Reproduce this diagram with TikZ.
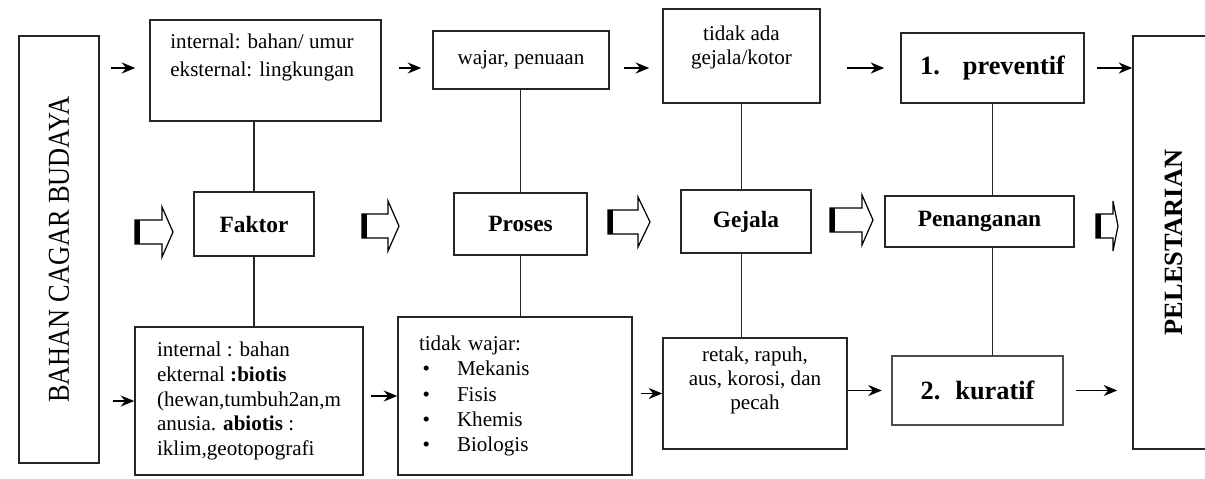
\documentclass[tikz,border=0pt]{standalone}
\usepackage{fontspec}
\setmainfont{Liberation Serif}
\usepackage{graphicx}
\usetikzlibrary{arrows.meta}

\newcommand{\itembul}{\makebox[0.76cm][l]{\hspace{2pt}\textbullet}}

\tikzset{
  box/.style={draw=black!85, line width=0.9pt, inner sep=0pt, font=\fontsize{12}{14.2}\selectfont},
  head/.style={box, font=\fontsize{13.3}{16}\selectfont\bfseries},
  arr/.style={line width=1pt, -{Stealth[length=0.27cm,width=0.22cm]}},
  link/.style={line width=0.9pt, draw=black!85},
  pics/hollow/.style args={#1/#2}{code={
    \draw[line width=0.7pt, fill=white] (0,-12) -- (#1-#2,-12) -- (#1-#2,-25) -- (#1,0) -- (#1-#2,25) -- (#1-#2,12) -- (0,12) -- cycle;
    \fill (0,-12) rectangle (5,12);
  }}
}

\begin{document}
\begin{tikzpicture}[x=0.02cm, y=-0.02cm]
\useasboundingbox (0,0) rectangle (1205,478);

% start and end
\node[box, minimum width=1.6cm, minimum height=8.54cm] (bahan) at (59,249.5)
  {\rotatebox{90}{\fontsize{15}{18}\selectfont\scalebox{1}[1.15]{BAHAN CAGAR BUDAYA}}};
\node[box, minimum width=1.64cm, minimum height=8.26cm] (pel) at (1174,242.5)
  {\rotatebox{90}{\fontsize{15}{18}\selectfont\bfseries PELESTARIAN}};

% top row
\node[box, minimum width=4.62cm, minimum height=2.02cm] (intern) at (265.5,70.5) {};
\node[anchor=north west, inner sep=0pt, align=left, font=\fontsize{12}{15.4}\selectfont] (intern-t) at (170,34)
  {internal: bahan/ umur\\eksternal: lingkungan};
\node[box, minimum width=3.52cm, minimum height=1.16cm] (wajar) at (521,60) {wajar, penuaan};
\node[box, minimum width=3.14cm, minimum height=1.88cm] (tidak) at (741.5,56) {};
\node[anchor=north, inner sep=0pt, align=center, font=\fontsize{12}{13.2}\selectfont] (tidak-t) at (741.5,26)
  {tidak ada\\gejala/kotor};
\node[head, font=\fontsize{15}{18}\selectfont\bfseries, minimum width=3.66cm, minimum height=1.4cm] (prev) at (992.5,68)
  {1.\hspace{0.46cm}preventif};

% middle row
\node[head, minimum width=2.4cm, minimum height=1.28cm] (faktor) at (254,224) {Faktor};
\node[head, minimum width=2.66cm, minimum height=1.24cm] (proses) at (520.5,224) {Proses};
\node[head, minimum width=2.6cm, minimum height=1.26cm] (gejala) at (746,221.5) {Gejala};
\node[head, minimum width=3.78cm, minimum height=1.02cm] (penang) at (979.5,221.5) {Penanganan};

% bottom row
\node[box, align=left, minimum width=4.56cm, minimum height=2.96cm] (sebab) at (249,401)
  {internal : bahan\\ekternal \textbf{:biotis}\\(hewan,tumbuh2an,m\\anusia. \textbf{abiotis} :\\iklim,geotopografi};
\node[box, align=left, text width=3.84cm, inner xsep=0.42cm, minimum height=3.16cm, font=\fontsize{12}{14.4}\selectfont] (tw) at (515,396)
  {tidak wajar:\\\itembul Mekanis\\\itembul Fisis\\\itembul Khemis\\\itembul Biologis};
\node[box, align=center, minimum width=3.68cm, minimum height=2.22cm, font=\fontsize{12}{13.6}\selectfont] (retak) at (755,393.5)
  {retak, rapuh,\\aus, korosi, dan\\pecah\\[4pt]};
\node[head, font=\fontsize{15}{18}\selectfont\bfseries, draw=black!70, line width=1.4pt, minimum width=3.42cm, minimum height=1.38cm] (kur) at (977.5,390.5)
  {2.\hspace{0.3cm}kuratif};

% vertical links
\draw[link] (faktor.north) -- (faktor.north |- intern.south);
\draw[link] (faktor.south) -- (faktor.south |- sebab.north);
\draw[link] (proses.north) -- (proses.north |- wajar.south);
\draw[link] (proses.south) -- (proses.south |- tw.north);
\draw[link] (tidak.south) -- (tidak.south |- gejala.north);
\draw[link] (tidak.south |- gejala.south) -- (tidak.south |- retak.north);
\draw[link] (prev.south) -- (prev.south |- penang.north);
\draw[link] (prev.south |- penang.south) -- (prev.south |- kur.north);

% thin arrows
\draw[arr, shorten <=0.22cm, shorten >=0.28cm] (bahan.east |- prev) -- (intern.west |- prev);
\draw[arr, shorten <=0.34cm, shorten >=0.22cm] (intern.east |- prev) -- (wajar.west |- prev);
\draw[arr, shorten <=0.28cm, shorten >=0.26cm] (wajar.east |- prev) -- (tidak.west |- prev);
\draw[arr, shorten <=0.52cm, shorten >=0.32cm] (tidak.east |- prev) -- (prev.west);
\draw[arr, shorten <=0.24cm] (prev.east) -- (pel.west |- prev);
\draw[arr, shorten <=0.26cm] (bahan.east |- sebab.west) -- (sebab.west);
\draw[arr, shorten <=0.14cm] (sebab.east |- tw.west) -- (tw.west);
\draw[arr, shorten <=0.16cm] (tw.east |- retak.west) -- (retak.west);
\draw[arr, shorten >=0.18cm] (retak.east |- kur.west) -- (kur.west);
\draw[arr, shorten <=0.24cm, shorten >=0.3cm] (kur.east) -- (pel.west |- kur.east);

% hollow arrows
\pic at (135,232) {hollow=38/11};
\pic at (362,226) {hollow=37/11};
\pic at (608,222) {hollow=42/12};
\pic at (830,220) {hollow=43/11};
\pic at (1096,226) {hollow=22/5};

\end{tikzpicture}
\end{document}
